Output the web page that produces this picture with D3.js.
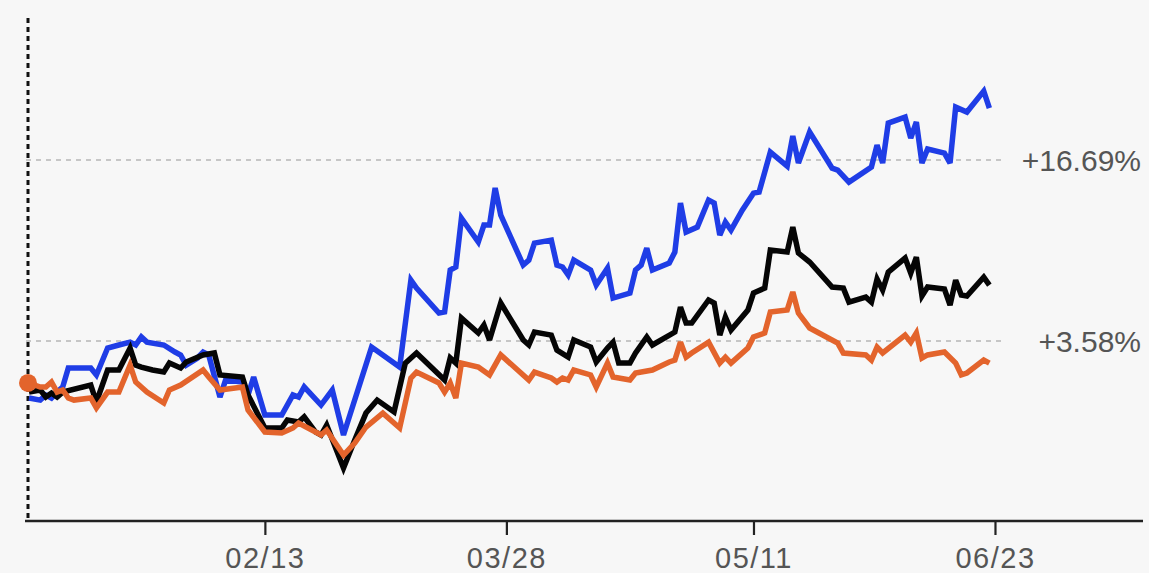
<!DOCTYPE html>
<html>
<head>
<meta charset="utf-8">
<script src="https://cdn.jsdelivr.net/npm/d3@7"></script>
<style>
  html, body { margin: 0; padding: 0; background: #f7f7f7; }
  svg { display: block; }
  text { font-family: "Liberation Sans", Arial, Helvetica, sans-serif; }
</style>
</head>
<body>
<svg id="chart" width="1149" height="573"></svg>
<script>
// ---- Data ----
const YEAR = 2023;
const tickDates = ["02-13", "03-28", "05-11", "06-23"];
const tickLabels = ["02/13", "03/28", "05/11", "06/23"];
const refValues = [16.69, 3.58];
const refLabels = ["+16.69%", "+3.58%"];

const blueDates = ["01-02","01-04","01-05","01-06","01-07","01-08","01-09","01-13","01-14","01-16","01-18","01-20","01-21","01-22","01-23","01-26","01-28","01-29","01-30","02-01","02-02","02-03","02-05","02-06","02-09","02-10","02-11","02-13","02-16","02-18","02-19","02-20","02-23","02-25","02-27","03-04","03-06","03-09","03-11","03-12","03-16","03-17","03-18","03-19","03-20","03-23","03-24","03-25","03-26","03-27","03-31","04-01","04-02","04-05","04-06","04-07","04-08","04-09","04-12","04-13","04-15","04-16","04-19","04-20","04-21","04-22","04-23","04-26","04-27","04-28","04-29","05-01","05-03","05-04","05-05","05-06","05-07","05-09","05-11","05-12","05-14","05-17","05-18","05-19","05-21","05-25","05-26","05-28","06-01","06-02","06-03","06-04","06-07","06-08","06-09","06-10","06-11","06-14","06-15","06-16","06-18","06-21","06-22"];
const blueValues = [-0.55,-0.70,-0.33,-0.55,-0.12,0.25,1.62,1.62,1.12,3.07,3.29,3.50,3.29,3.87,3.50,3.29,2.78,2.57,1.84,2.35,2.78,2.57,-0.48,0.75,0.61,-0.33,0.97,-1.78,-1.78,-0.33,-0.48,0.25,-1.06,0.03,-3.23,3.14,2.57,1.69,7.99,7.41,5.60,5.68,8.72,8.94,12.48,10.75,11.98,11.98,14.66,12.70,9.08,9.44,10.67,10.89,9.08,8.94,8.36,9.44,8.72,7.63,8.86,6.69,7.05,8.72,9.08,10.31,8.72,9.23,10.02,13.57,11.47,11.83,13.79,13.57,11.25,12.19,11.61,13.06,14.29,14.37,17.26,16.25,18.42,16.47,18.71,16.10,15.96,15.09,16.18,17.77,16.47,19.36,19.80,18.28,19.44,16.47,17.48,17.19,16.47,20.52,20.16,21.68,20.45];

const blackDates = ["01-02","01-04","01-05","01-06","01-07","01-08","01-13","01-14","01-16","01-18","01-20","01-21","01-22","01-24","01-26","01-27","01-29","01-30","02-02","02-04","02-05","02-09","02-10","02-13","02-16","02-17","02-19","02-20","02-22","02-23","02-24","02-27","03-01","03-03","03-05","03-08","03-10","03-12","03-17","03-18","03-19","03-20","03-23","03-24","03-25","03-27","03-31","04-01","04-02","04-05","04-06","04-08","04-09","04-12","04-13","04-15","04-16","04-17","04-19","04-20","04-22","04-23","04-27","04-28","04-29","04-30","05-03","05-04","05-05","05-06","05-07","05-10","05-11","05-13","05-14","05-17","05-18","05-19","05-21","05-25","05-27","05-28","05-31","06-01","06-02","06-03","06-04","06-07","06-08","06-09","06-10","06-11","06-14","06-15","06-16","06-17","06-18","06-21","06-22"];
const blackValues = [-0.12,0.03,-0.48,-0.19,-0.48,-0.12,0.39,-0.84,1.48,1.48,3.07,1.84,1.69,1.48,1.33,1.98,1.62,2.06,2.57,2.71,1.12,0.97,-0.33,-2.72,-2.72,-2.14,-2.29,-1.92,-3.01,-3.23,-2.51,-5.62,-3.59,-1.64,-0.70,-1.56,1.98,2.71,0.75,2.35,1.98,5.24,4.16,4.74,3.65,6.33,3.65,3.29,4.23,4.01,2.92,2.41,3.65,3.14,2.06,3.07,3.50,1.98,1.98,2.71,3.87,3.29,4.23,6.04,4.88,4.88,6.55,6.33,4.01,5.31,4.37,5.82,7.05,7.41,10.17,10.02,11.83,9.95,9.30,7.49,7.41,6.40,6.76,6.40,8.07,7.27,8.57,9.59,8.50,9.66,6.84,7.49,7.34,6.18,7.99,6.91,6.84,8.21,7.63];

const orangeDates = ["01-02","01-04","01-05","01-06","01-07","01-08","01-09","01-10","01-13","01-14","01-16","01-18","01-20","01-21","01-23","01-26","01-27","01-29","02-02","02-03","02-05","02-09","02-10","02-13","02-16","02-18","02-19","02-23","02-24","02-27","03-01","03-03","03-06","03-09","03-11","03-12","03-16","03-17","03-18","03-19","03-20","03-23","03-25","03-27","03-30","04-01","04-02","04-05","04-06","04-07","04-08","04-09","04-12","04-13","04-15","04-16","04-19","04-20","04-23","04-26","04-27","04-28","04-29","04-30","05-03","05-05","05-06","05-07","05-10","05-11","05-13","05-14","05-17","05-18","05-19","05-21","05-26","05-27","05-31","06-01","06-02","06-03","06-07","06-08","06-09","06-10","06-11","06-14","06-16","06-17","06-18","06-21","06-22"];
const orangeValues = [0.54,0.25,0.25,0.61,-0.12,0.03,-0.55,-0.70,-0.55,-1.27,-0.12,-0.12,1.84,0.61,-0.12,-0.91,0.03,0.39,1.48,0.97,0.03,0.25,-1.42,-3.01,-3.08,-2.72,-2.36,-3.23,-2.87,-4.68,-3.81,-2.65,-1.64,-2.72,0.90,1.33,0.54,-0.12,0.54,-0.55,1.98,1.69,1.12,2.57,1.48,0.75,1.33,0.90,0.61,0.90,0.75,1.48,1.12,0.25,1.98,0.97,0.75,1.26,1.48,2.06,2.20,3.50,2.41,2.71,3.50,1.98,2.41,1.98,3.07,3.87,4.16,5.68,5.82,7.13,5.60,4.52,3.43,2.71,2.57,2.20,3.14,2.71,4.01,3.50,4.16,2.35,2.57,2.78,1.98,1.12,1.26,2.20,1.98];

// ---- Chart ----
const parse = s => d3.timeParse("%Y-%m-%d")(YEAR + "-" + s);
const svg = d3.select("#chart");
svg.append("rect").attr("width", 1149).attr("height", 573).attr("fill", "#f7f7f7");

const x = d3.scaleTime()
  .domain([parse("01-02"), parse("07-19")])
  .range([29, 1141]);
const y = d3.scaleLinear()
  .domain([3.58, 16.69])
  .range([341, 160]);

const axisY = 521;

// reference gridlines
svg.append("g").selectAll("line").data(refValues).join("line")
  .attr("x1", 26).attr("x2", 1003)
  .attr("y1", d => y(d)).attr("y2", d => y(d))
  .attr("stroke", "#c6c6c6").attr("stroke-width", 1.8)
  .attr("stroke-dasharray", "5,5");

svg.append("g").selectAll("text").data(refValues).join("text")
  .attr("x", 1141).attr("y", d => y(d) + 11)
  .attr("text-anchor", "end")
  .attr("font-size", 30)
  .attr("fill", "#555")
  .text((d, i) => refLabels[i]);

// vertical dotted start line
svg.append("line")
  .attr("x1", x(parse("01-02")) - 1).attr("x2", x(parse("01-02")) - 1)
  .attr("y1", 18).attr("y2", axisY)
  .attr("stroke", "#111").attr("stroke-width", 3)
  .attr("stroke-dasharray", "5,4");

// x axis
const xAxis = d3.axisBottom(x)
  .tickValues(tickDates.map(parse))
  .tickFormat((d, i) => tickLabels[i])
  .tickSize(14)
  .tickSizeOuter(0)
  .tickPadding(12);
const gx = svg.append("g").attr("transform", `translate(0,${axisY})`).call(xAxis);
gx.select(".domain").remove();
gx.selectAll(".tick line").attr("stroke", "#222").attr("stroke-width", 2.2);
gx.selectAll(".tick text")
  .attr("font-family", "'Liberation Sans', Arial, Helvetica, sans-serif")
  .attr("font-size", 29)
  .attr("letter-spacing", 1.5)
  .attr("fill", "#555");
svg.append("line")
  .attr("x1", 25).attr("x2", 1143)
  .attr("y1", axisY).attr("y2", axisY)
  .attr("stroke", "#222").attr("stroke-width", 2.4);

// lines
const line = d3.line().x(d => x(d.date)).y(d => y(d.value));
const series = [
  { dates: blueDates, values: blueValues, color: "#1f3de6" },
  { dates: blackDates, values: blackValues, color: "#050505" },
  { dates: orangeDates, values: orangeValues, color: "#e3642c" }
];
series.forEach(s => {
  const pts = s.dates.map((d, i) => ({ date: parse(d), value: s.values[i] }));
  svg.append("path")
    .datum(pts)
    .attr("d", line)
    .attr("fill", "none")
    .attr("stroke", s.color)
    .attr("stroke-width", 5.5)
    .attr("stroke-linejoin", "miter")
    .attr("stroke-miterlimit", 3);
});

// start dot
svg.append("circle")
  .attr("cx", x(parse(orangeDates[0])) - 1)
  .attr("cy", y(orangeValues[0]))
  .attr("r", 9)
  .attr("fill", "#e3642c");
</script>
</body>
</html>
